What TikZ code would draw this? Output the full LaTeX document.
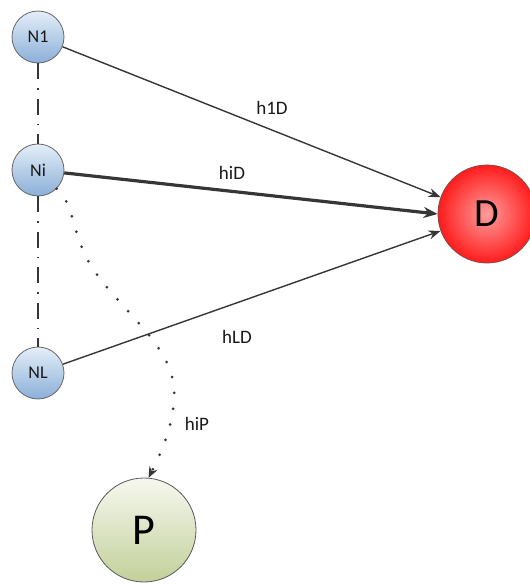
\documentclass[tikz,border=0pt]{standalone}
\usepackage{fontspec}
\setmainfont{Carlito}
\usetikzlibrary{arrows.meta}
\definecolor{edgecol}{HTML}{363636}
\definecolor{ntop}{HTML}{E4EEF9}
\definecolor{nbot}{HTML}{8BAFD8}
\definecolor{ptop}{HTML}{F6F8EF}
\definecolor{pbot}{HTML}{C2D09A}
\definecolor{dinner}{HTML}{FF9C9C}
\definecolor{douter}{HTML}{FF1C1C}
\tikzset{
  smallnode/.style={circle, draw=black!60, line width=0.8pt, minimum size=52pt, inner sep=0pt,
    top color=ntop, bottom color=nbot, font=\fontsize{18}{18}\selectfont, text=black!90},
  dnode/.style={circle, draw=red!30!black!70, line width=0.8pt, minimum size=98pt, inner sep=0pt,
    inner color=dinner, outer color=douter, font=\fontsize{40}{40}\selectfont, text=black},
  pnode/.style={circle, draw=black!65, line width=0.8pt, minimum size=104pt, inner sep=0pt,
    top color=ptop, bottom color=pbot, font=\fontsize{44}{44}\selectfont, text=black},
  edge/.style={draw=edgecol, line width=1.4pt, -{Stealth[length=12pt,width=9pt]}},
  thickedge/.style={draw=edgecol, line width=3.2pt, -{Stealth[length=14pt,width=11pt]}},
  chain/.style={draw=edgecol, line width=1.8pt, dash pattern=on 16pt off 9pt on 1.5pt off 9pt},
  dotline/.style={draw=edgecol, line width=3pt, line cap=round, dash pattern=on 0pt off 16pt, -{Stealth[length=11pt,width=9pt,line width=0pt]}},
  lab/.style={font=\fontsize{19}{19}\selectfont, text=black!90, inner sep=0pt}
}
\begin{document}
\begin{tikzpicture}[x=1pt,y=-1pt]
\useasboundingbox (0,0) rectangle (530,584);
\node[smallnode] (N1) at (38,37) {N1};
\node[smallnode] (Ni) at (38,170) {Ni};
\node[smallnode] (NL) at (38,373) {NL};
\node[dnode] (D) at (487,214) {D};
\node[pnode] (P) at (144,530) {P};
\draw[chain] (N1) -- (Ni);
\draw[chain] (Ni) -- (NL);
\draw[edge] (N1) -- (D.160);
\draw[thickedge] (Ni) -- (D.west);
\draw[edge] (NL) -- (D.200);
\draw[dotline] (Ni.-45) .. controls (76,205) and (70,235) .. (95,272)
  .. controls (130,320) and (178,350) .. (174,400)
  .. controls (172,430) and (160,455) .. (P.85);
\node[lab] (l1) at (272,108) {h1D};
\node[lab] (l2) at (232,173) {hiD};
\node[lab] (l3) at (237,337) {hLD};
\node[lab] (l4) at (197,424) {hiP};
\end{tikzpicture}
\end{document}
